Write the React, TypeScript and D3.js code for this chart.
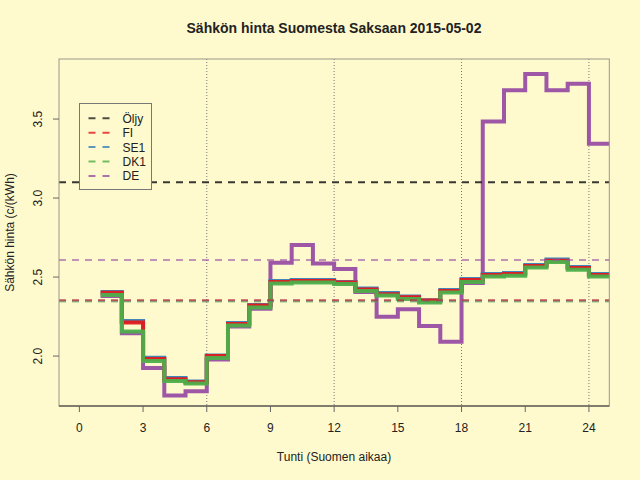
import * as d3 from "d3";

// Hours (Finnish time), one step per hour
const hours = [1, 2, 3, 4, 5, 6, 7, 8, 9, 10, 11, 12, 13, 14, 15, 16, 17, 18, 19, 20, 21, 22, 23, 24];

// Prices c/kWh
const fiValues = [2.40, 2.212, 1.981, 1.854, 1.835, 2.0, 2.203, 2.32, 2.468, 2.475, 2.475, 2.465, 2.421, 2.392, 2.373, 2.351, 2.411, 2.481, 2.513, 2.519, 2.570, 2.604, 2.557, 2.513];
const se1Values = [2.405, 2.222, 1.99, 1.861, 1.839, 2.003, 2.209, 2.323, 2.475, 2.481, 2.481, 2.468, 2.427, 2.399, 2.377, 2.354, 2.418, 2.487, 2.519, 2.525, 2.576, 2.611, 2.563, 2.519];
const dk1Values = [2.386, 2.155, 1.968, 1.842, 1.826, 1.987, 2.193, 2.307, 2.459, 2.465, 2.465, 2.456, 2.411, 2.383, 2.361, 2.339, 2.402, 2.468, 2.503, 2.509, 2.560, 2.595, 2.547, 2.503];
const deValues = [2.38, 2.145, 1.924, 1.75, 1.778, 1.978, 2.187, 2.30, 2.59, 2.703, 2.586, 2.551, 2.405, 2.249, 2.297, 2.19, 2.09, 2.462, 3.485, 3.682, 3.785, 3.682, 3.723, 3.344];

// Reference (average) levels
const refNames = ["Öljy", "FI", "SE1", "DK1", "DE"];
const refValues = [3.10, 2.353, 2.352, 2.345, 2.608];
const refColors = ["#222222", "#E41A1C", "#377EB8", "#4DAF4A", "#984EA3"];
// order the reference lines are drawn in (index into the arrays above)
const refOrder = [0, 3, 2, 1, 4];

const xTicks = [0, 3, 6, 9, 12, 15, 18, 21, 24];
const yTicks = [2.0, 2.5, 3.0, 3.5];
const vLines = [6, 12, 18, 24];

const bg = "#FFFACD";
const font = "'Liberation Sans', Arial, sans-serif";
const textColor = "#222";

export default function App() {
  const width = 640;
  const height = 480;
  const margin = { top: 59, right: 30.7, bottom: 74, left: 59 };
  const x0 = margin.left;
  const x1 = width - margin.right;
  const y0 = margin.top;
  const y1 = height - margin.bottom;

  const xScale = d3.scaleLinear().domain([-0.96, 24.96]).range([x0, x1]);
  const yScale = d3.scaleLinear().domain([1.684, 3.88]).range([y1, y0]);

  const line = d3
    .line<[number, number]>()
    .x((d) => xScale(d[0]))
    .y((d) => yScale(d[1]))
    .curve(d3.curveStepAfter);

  const stepPath = (vals: number[]) => {
    const pts: [number, number][] = vals.map((v, i) => [hours[i], v]);
    pts.push([hours[hours.length - 1] + 1, vals[vals.length - 1]]);
    return line(pts) || "";
  };

  // drawing order: DE first, then SE1, FI, DK1
  const series = [
    { vals: deValues, color: "#984EA3", w: 4 },
    { vals: se1Values, color: "#377EB8", w: 4 },
    { vals: fiValues, color: "#E41A1C", w: 4 },
    { vals: dk1Values, color: "#4DAF4A", w: 4 },
  ];

  const legend = { x: 79.5, y: 103.5, w: 72, h: 86 };

  return (
    <svg
      width={width}
      height={height}
      style={{ position: "absolute", left: 0, top: 0, background: bg }}
      fontFamily={font}
    >
      <rect x={0} y={0} width={width} height={height} fill={bg} />
      <defs>
        <clipPath id="plot-clip">
          <rect x={x0} y={y0} width={x1 - x0} height={y1 - y0} />
        </clipPath>
      </defs>

      {/* vertical dotted guides */}
      {vLines.map((h) => (
        <line
          key={h}
          x1={xScale(h)}
          x2={xScale(h)}
          y1={y0}
          y2={y1}
          stroke="#777"
          strokeWidth={1}
          strokeDasharray="1,2"
        />
      ))}

      {/* price steps */}
      <g clipPath="url(#plot-clip)">
        {series.map((s, i) => (
          <path
            key={i}
            d={stepPath(s.vals)}
            fill="none"
            stroke={s.color}
            strokeWidth={s.w}
            strokeOpacity={0.95}
          />
        ))}
      </g>

      {/* average levels */}
      {refOrder.map((i) => (
        <line
          key={refNames[i]}
          x1={x0}
          x2={x1}
          y1={yScale(refValues[i])}
          y2={yScale(refValues[i])}
          stroke={refColors[i]}
          strokeWidth={2}
          strokeOpacity={i === 0 ? 0.9 : 0.6}
          strokeDasharray="7,6"
        />
      ))}

      {/* plot box */}
      <rect x={x0} y={y0} width={x1 - x0} height={y1 - y0} fill="none" stroke="#9a968a" strokeWidth={1} />
      <line x1={x0} x2={x1} y1={y1} y2={y1} stroke="#333" strokeWidth={1} />

      {/* x axis */}
      {xTicks.map((t) => (
        <g key={t}>
          <line x1={xScale(t)} x2={xScale(t)} y1={y1} y2={y1 + 6} stroke="#666" />
          <text x={xScale(t)} y={432} textAnchor="middle" fontSize={12} fill={textColor}>
            {t}
          </text>
        </g>
      ))}

      {/* y axis */}
      {yTicks.map((t) => (
        <g key={t}>
          <line x1={x0} x2={x0 - 6} y1={yScale(t)} y2={yScale(t)} stroke="#666" />
          <text
            transform={`translate(42,${yScale(t)}) rotate(-90)`}
            textAnchor="middle"
            fontSize={12}
            fill={textColor}
          >
            {t.toFixed(1)}
          </text>
        </g>
      ))}

      {/* titles */}
      <text x={334} y={33} textAnchor="middle" fontSize={14} fontWeight="bold" fill={textColor}>
        Sähkön hinta Suomesta Saksaan 2015-05-02
      </text>
      <text x={334} y={461} textAnchor="middle" fontSize={12} fill={textColor}>
        Tunti (Suomen aikaa)
      </text>
      <text
        transform={`translate(14,${(y0 + y1) / 2}) rotate(-90)`}
        textAnchor="middle"
        fontSize={12}
        fill={textColor}
      >
        Sähkön hinta (c/(kWh)
      </text>

      {/* legend */}
      <rect
        x={legend.x}
        y={legend.y}
        width={legend.w}
        height={legend.h}
        fill={bg}
        stroke="#777"
        strokeWidth={1}
      />
      {refNames.map((name, i) => {
        const cy = 118.3 + i * 14.4;
        return (
          <g key={name}>
            <line
              x1={88.5}
              x2={109.5}
              y1={cy}
              y2={cy}
              stroke={refColors[i]}
              strokeWidth={2}
              strokeOpacity={0.8}
              strokeDasharray="7,7"
            />
            <text x={122.5} y={cy + 4.5} fontSize={12} fill={textColor}>
              {name}
            </text>
          </g>
        );
      })}
    </svg>
  );
}
